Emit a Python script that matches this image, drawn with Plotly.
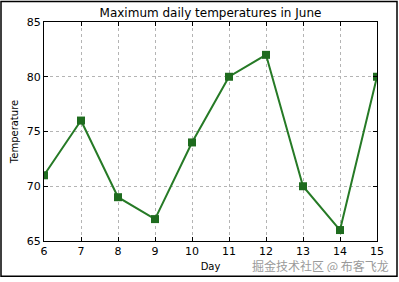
import plotly.graph_objects as go

days = [6, 7, 8, 9, 10, 11, 12, 13, 14, 15]
temps = [71, 76, 69, 67, 74, 80, 82, 70, 66, 80]
title_text = "Maximum daily temperatures in June"
x_title = "Day"
y_title = "Temperature"
watermark = "掘金技术社区 @ 布客飞龙"

L, R, T, B = 44, 22, 22, 37
W, H = 399, 282
pw, ph = W - L - R, H - T - B

fig = go.Figure()
fig.add_trace(go.Scatter(
    x=days, y=temps, mode="lines+markers",
    line=dict(color="#267a26", width=2),
    marker=dict(symbol="square", size=8, color="#1e6b1e"),
))

axis_common = dict(
    showline=True, linecolor="black", linewidth=1, mirror="ticks",
    ticks="inside", ticklen=4, tickcolor="black",
    showgrid=True, gridcolor="#b4b4b4", griddash="3px,3px", gridwidth=1,
    zeroline=False, tickfont=dict(family="DejaVu Sans", size=11, color="black"),
)

fig.update_layout(
    width=W, height=H,
    margin=dict(l=L, r=R, t=T, b=B),
    paper_bgcolor="white", plot_bgcolor="white",
    showlegend=False,
    title=dict(text=title_text, x=(L + pw / 2) / W, xanchor="center", y=1 - 13 / H, yanchor="middle",
               font=dict(family="DejaVu Sans", size=12, color="black")),
    xaxis=dict(range=[6, 15], dtick=1, tick0=6,
               title=dict(text=x_title, standoff=5, font=dict(family="DejaVu Sans", size=10, color="black")),
               **axis_common),
    yaxis=dict(range=[65, 85], dtick=5, tick0=65,
               title=dict(text=y_title, standoff=6, font=dict(family="DejaVu Sans", size=10, color="black")),
               **axis_common),
)

# outer figure frame
fig.add_shape(type="rect", xref="paper", yref="paper",
              x0=(1 - L) / pw, x1=(397 - L) / pw,
              y0=(H - B - 281) / ph, y1=(H - B - 1) / ph,
              line=dict(color="black", width=1.5), fillcolor="rgba(0,0,0,0)", layer="above")

fig.add_annotation(text=watermark, xref="paper", yref="paper",
                   x=(390 - L) / pw, y=(H - B - 270) / ph, xanchor="right", yanchor="middle",
                   showarrow=False, height=13, borderpad=0,
                   font=dict(family="Noto Sans CJK SC", size=12, color="#9a9a9a"))

fig.write_html("out.html")
